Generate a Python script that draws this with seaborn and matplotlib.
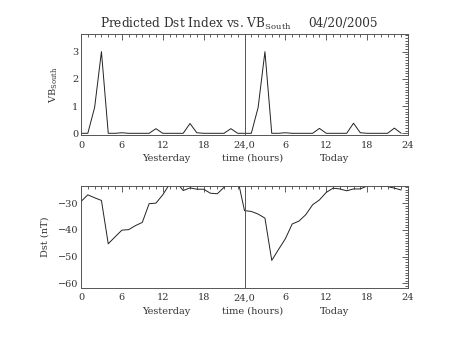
import numpy as np
import pandas as pd
import matplotlib
matplotlib.use("Agg")
import matplotlib.pyplot as plt
import seaborn as sns
from matplotlib.ticker import MultipleLocator

# ---- data ----
hours = list(range(48))
vb_south = [0.0, 0.0, 0.95, 3.0, 0.0, 0.0, 0.02, 0.0, 0.0, 0.0, 0.0, 0.17,
            0.0, 0.0, 0.0, 0.0, 0.36, 0.02, 0.0, 0.0, 0.0, 0.0, 0.17, 0.0,
            0.0, 0.0, 0.95, 3.0, 0.0, 0.0, 0.02, 0.0, 0.0, 0.0, 0.0, 0.18,
            0.0, 0.0, 0.0, 0.0, 0.37, 0.02, 0.0, 0.0, 0.0, 0.0, 0.19, 0.0]
dst = [-29.4, -26.9, -28.0, -29.0, -45.2, -42.6, -40.1, -39.9, -38.4, -37.2, -30.2, -30.0,
       -26.9, -22.9, -22.2, -25.3, -24.3, -24.8, -24.8, -26.3, -26.5, -24.1, -22.0, -21.0,
       -32.8, -33.1, -34.1, -35.6, -51.4, -47.3, -43.3, -37.8, -36.7, -34.3, -30.6, -28.8,
       -26.0, -24.4, -24.7, -25.4, -24.7, -24.7, -23.6, -23.2, -23.6, -23.8, -24.4, -25.1]
xtick_pos = [0, 6, 12, 18, 24, 30, 36, 42, 48]
xtick_labels = ["0", "6", "12", "18", "24,0", "6", "12", "18", "24"]
title_text = "Predicted Dst Index vs. VB$_{\\mathrm{South}}$"
date_text = "04/20/2005"

df = pd.DataFrame({"hour": hours, "vb": vb_south, "dst": dst})

sns.set_style("white")
plt.rcParams["font.family"] = ["DejaVu Serif"]
plt.rcParams["mathtext.fontset"] = "dejavuserif"

W, H = 453, 340
fig = plt.figure(figsize=(W / 100, H / 100), dpi=100)
fig.patch.set_facecolor("white")

def px_axes(x0, y0, x1, y1):
    return fig.add_axes([x0 / W, 1 - y1 / H, (x1 - x0) / W, (y1 - y0) / H])

ax1 = px_axes(81, 34, 408, 135)
ax2 = px_axes(81, 186, 408, 287.7)

lc = "#222222"
sns.lineplot(data=df, x="hour", y="vb", ax=ax1, color=lc, linewidth=0.7)
sns.lineplot(data=df, x="hour", y="dst", ax=ax2, color=lc, linewidth=0.7)

FS = 7
for ax in (ax1, ax2):
    ax.set_xlim(0, 48)
    ax.axvline(24, color="#555555", linewidth=0.7)
    ax.set_xticks(xtick_pos)
    ax.set_xticklabels(xtick_labels)
    ax.xaxis.set_minor_locator(MultipleLocator(1))
    ax.tick_params(which="both", direction="in", top=True, right=True,
                   colors="#444444", labelcolor="#333333", labelsize=FS, width=0.6)
    ax.tick_params(which="major", length=4)
    ax.tick_params(which="minor", length=2)
    ax.tick_params(axis="x", pad=4)
    ax.tick_params(axis="y", pad=2)
    for s in ax.spines.values():
        s.set_color("#555555")
        s.set_linewidth(0.7)
    ax.set_xlabel("")
    ax.set_facecolor("white")

ax1.set_ylim(-0.0625, 3.65)
ax1.set_yticks([0, 1, 2, 3])
ax1.yaxis.set_minor_locator(MultipleLocator(0.1))
ax1.set_ylabel("VB$_{\\mathrm{South}}$", fontsize=FS, color="#333333")
ax1.yaxis.set_label_coords((60 - 81) / 327, 0.5)

ax2.set_ylim(-61.6, -23.6)
ax2.set_yticks([-60, -50, -40, -30])
ax2.yaxis.set_minor_locator(MultipleLocator(1))
ax2.set_ylabel("Dst (nT)", fontsize=FS, color="#333333")
ax2.yaxis.set_label_coords((50 - 81) / 327, 0.5)

def ftext(x, y, s, **kw):
    fig.text(x / W, 1 - y / H, s, color="#333333", **kw)

for yy in (158.5, 311.5):
    ftext(166, yy, "Yesterday", ha="center", va="center", fontsize=FS)
    ftext(253, yy, "time (hours)", ha="center", va="center", fontsize=FS)
    ftext(335, yy, "Today", ha="center", va="center", fontsize=FS)

ftext(100, 24, title_text, ha="left", va="center", fontsize=8.7)
ftext(308, 23.5, date_text, ha="left", va="center", fontsize=8.7)

fig.savefig("out.png", dpi=100, facecolor="white")
